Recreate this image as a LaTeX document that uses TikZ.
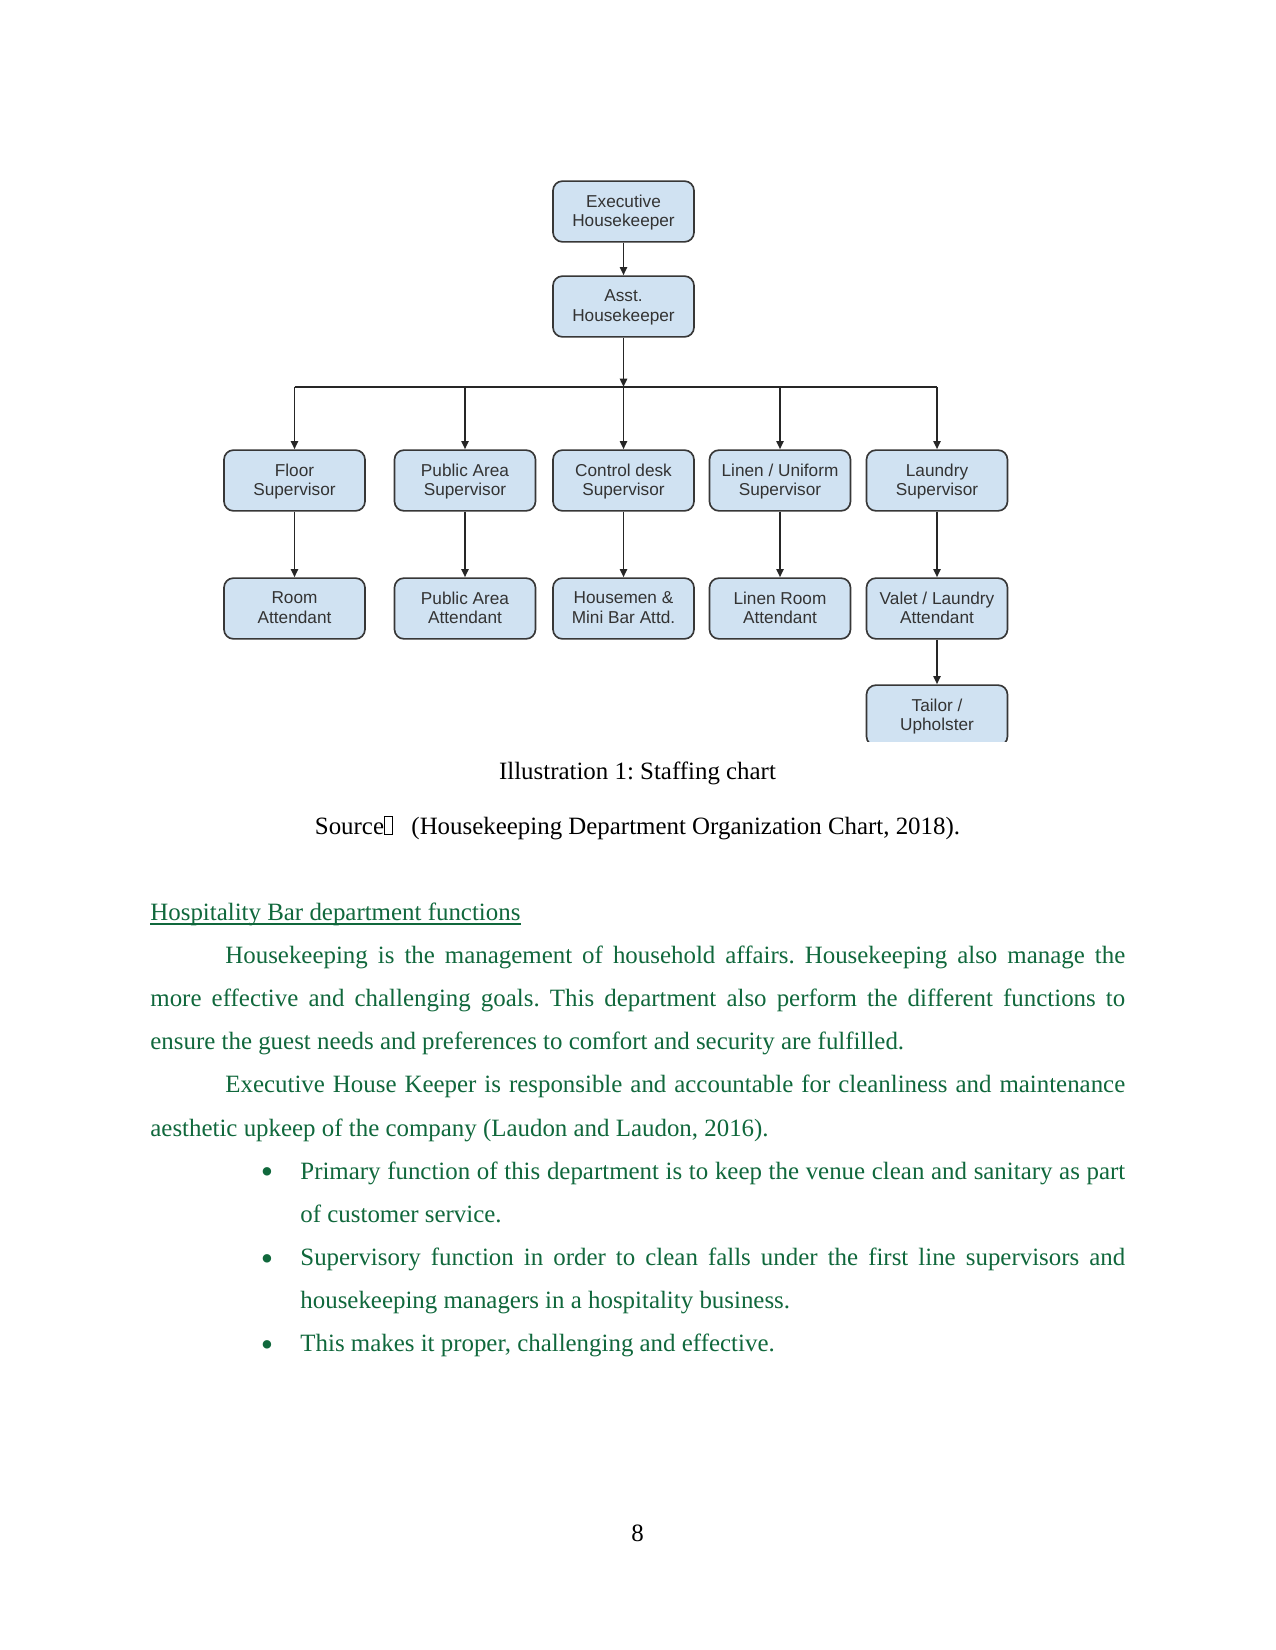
\documentclass[tikz,border=0pt]{standalone}
\usepackage{fontspec}
\setmainfont{Liberation Serif}
\newfontfamily\chartfont{Liberation Sans}
\usetikzlibrary{arrows.meta}
\definecolor{boxblue}{RGB}{208,226,242}
\definecolor{boxedge}{RGB}{55,55,55}
\definecolor{bodygreen}{RGB}{16,104,60}
\newcommand{\jline}[2]{\makebox[#1][s]{#2}}
\newcommand{\missingglyph}{{\setlength\fboxsep{0pt}\setlength\fboxrule{0.4pt}\fbox{\rule{0pt}{8.4pt}\hspace{3.4pt}}}}
\frenchspacing

\begin{document}
\begin{tikzpicture}[
    x=0.0066667in, y=-0.0066667in,
    post/.style={rectangle, rounded corners=1.6mm, draw=boxedge, line width=0.8pt, fill=boxblue,
      minimum width=0.94in, minimum height=0.405in, align=center, text=black!80,
      font=\chartfont\fontsize{8.3}{9.3}\selectfont, inner sep=1pt, text depth=1pt},
    arr/.style={-{Stealth[length=1.4mm, width=1.2mm, inset=0pt]}, line width=0.95pt, black!85},
    body/.style={anchor=base west, inner sep=0pt, text=bodygreen, font=\fontsize{12}{14}\selectfont},
    plain/.style={anchor=base, inner sep=0pt, text=black, font=\fontsize{12}{14}\selectfont}
]
    \fill[white] (0,0) rectangle (1275,1650);

    \node[post] (exec) at (623.5,211.5) {Executive\\Housekeeper};
    \node[post] (asst) at (623.5,306.5) {Asst.\\Housekeeper};

    \node[post] (floor) at (294.5,480.5) {Floor\\Supervisor};
    \node[post] (pubsup) at (465,480.5) {Public Area\\Supervisor};
    \node[post] (desk) at (623.5,480.5) {Control desk\\Supervisor};
    \node[post] (linen) at (780,480.5) {Linen / Uniform\\Supervisor};
    \node[post] (laundry) at (937,480.5) {Laundry\\Supervisor};

    \node[post] (room) at (294.5,608.5) {Room\\Attendant};
    \node[post] (pubatt) at (465,608.5) {Public Area\\Attendant};
    \node[post] (housemen) at (623.5,608.5) {Housemen \&\\Mini Bar Attd.};
    \node[post] (linenroom) at (780,608.5) {Linen Room\\Attendant};
    \node[post] (valet) at (937,608.5) {Valet / Laundry\\Attendant};

    \begin{scope}
      \clip (800,650) rectangle (1100,741.5);
      \node[post] (tailor) at (937,715.5) {Tailor /\\Upholster};
    \end{scope}

    \coordinate (bar) at (623.5,387);
    \draw[arr] (exec) -- (asst);
    \draw[arr] (asst) -- (bar);
    \draw[arr] (bar) -- (desk);
    \draw[line width=0.95pt, black!85] (floor.north |- bar) -- (laundry.north |- bar);
    \foreach \n in {floor,pubsup,linen,laundry}
      \draw[arr] (\n.north |- bar) -- (\n);
    \draw[arr] (floor) -- (room);
    \draw[arr] (pubsup) -- (pubatt);
    \draw[arr] (desk) -- (housemen);
    \draw[arr] (linen) -- (linenroom);
    \draw[arr] (laundry) -- (valet);
    \draw[arr] (valet) -- (tailor.north);

    \node[plain] (caption) at (637.5,779) {Illustration 1: Staffing chart};
    \node[plain] (source) at (637.5,834) {Source\missingglyph\hspace{9pt}(Housekeeping Department Organization Chart, 2018).};

    \node[body] (head) at (150,920) {Hospitality Bar department functions};
    \draw[bodygreen, line width=0.6pt] ([yshift=-1.9pt]head.base west) -- ([yshift=-1.9pt]head.base east);

    \node[body] (p1a) at (225,963.5) {\jline{6in}{Housekeeping is the management of household affairs. Housekeeping also manage the}};
    \node[body] (p1b) at (150,1006.6) {\jline{6.5in}{more effective and challenging goals. This department also perform the different functions to}};
    \node[body] (p1c) at (150,1049.8) {ensure the guest needs and preferences to comfort and security are fulfilled.};
    \node[body] (p2a) at (225,1092.9) {\jline{6in}{Executive House Keeper is responsible and accountable for cleanliness and maintenance}};
    \node[body] (p2b) at (150,1136.1) {aesthetic upkeep of the company (Laudon and Laudon, 2016).};

    \foreach \y in {1179.2,1265.5,1351.8}
      \node[body, anchor=base, font=\fontsize{17}{17}\selectfont] at (267,\y+4.5) {\textbullet};
    \node[body] (b1a) at (300,1179.2) {\jline{5.5in}{Primary function of this department is to keep the venue clean and sanitary as part}};
    \node[body] (b1b) at (300,1222.4) {of customer service.};
    \node[body] (b2a) at (300,1265.5) {\jline{5.5in}{Supervisory function in order to clean falls under the first line supervisors and}};
    \node[body] (b2b) at (300,1308.6) {housekeeping managers in a hospitality business.};
    \node[body] (b3) at (300,1351.8) {This makes it proper, challenging and effective.};

    \node[plain] (pagenum) at (637.5,1541) {8};
\end{tikzpicture}
\end{document}
